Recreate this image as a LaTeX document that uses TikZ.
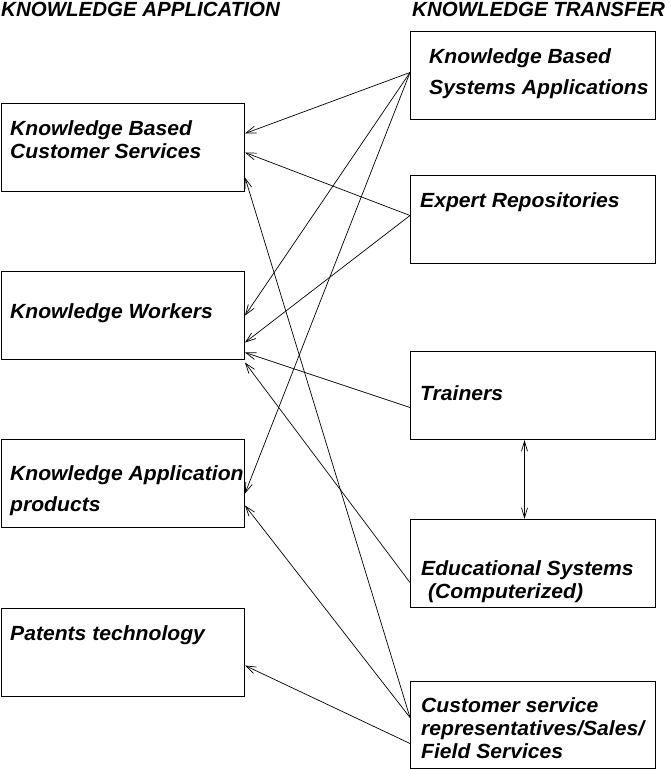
\documentclass[tikz,border=0pt]{standalone}
\usepackage{fontspec}
\setmainfont{Liberation Sans}
\newfontfamily\widefont[FakeStretch=1.03]{Liberation Sans}
\usetikzlibrary{arrows.meta,calc}
\begin{document}
\begin{tikzpicture}[x=1pt,y=-1pt,
  lbox/.style={draw,line width=1pt,minimum width=243pt,minimum height=88pt,anchor=north west,inner sep=0pt},
  rbox/.style={draw,line width=1pt,minimum width=245pt,minimum height=88pt,anchor=north west,inner sep=0pt},
  hdr/.style={anchor=base west,inner sep=0pt,font=\fontsize{20.5}{24}\selectfont\bfseries\itshape},
  lab/.style={anchor=base west,inner sep=0pt,font=\widefont\fontsize{20.5}{24}\selectfont\bfseries\itshape},
  arr/.style={-{Straight Barb[length=10pt,width=7pt]},line width=0.7pt},
  darr/.style={{Straight Barb[length=10pt,width=6pt]}-{Straight Barb[length=10pt,width=6pt]},line width=0.7pt}]
\useasboundingbox (0,0) rectangle (670,769);
% headers
\node[hdr] (h1) at (1,16) {KNOWLEDGE APPLICATION};
\node[hdr] (h2) at (412,16) {KNOWLEDGE TRANSFER};
% left boxes
\node[lbox] (kbcs) at (1,103) {};
\node[lbox] (kw) at (1,271) {};
\node[lbox] (kap) at (1,439) {};
\node[lbox] (pat) at (1,608) {};
% right boxes
\node[rbox] (kbsa) at (410,31) {};
\node[rbox] (er) at (410,175) {};
\node[rbox] (tr) at (410,351) {};
\node[rbox] (ed) at (410,519) {};
\node[rbox,minimum height=87pt] (csr) at (410,681) {};
% left texts
\node[lab] (l1a) at (10,135) {Knowledge Based};
\node[lab] (l1b) at (10,158) {Customer Services};
\node[lab] (l2) at (10,318) {Knowledge Workers};
\node[lab] (l3a) at (10,480) {Knowledge Application};
\node[lab] (l3b) at (10,511) {products};
\node[lab] (l4) at (10,640) {Patents technology};
% right texts
\node[lab] (r1a) at (429,63) {Knowledge Based};
\node[lab] (r1b) at (429,94) {Systems Applications};
\node[lab] (r2) at (420,207) {Expert Repositories};
\node[lab] (r3) at (420,400) {Trainers};
\node[lab] (r4a) at (421,575) {Educational Systems};
\node[lab] (r4b) at (428,598) {(Computerized)};
\node[lab] (r5a) at (421,712) {Customer service};
\node[lab] (r5b) at (421,735) {representatives/Sales/};
\node[lab] (r5c) at (421,758) {Field Services};
% connectors
\draw[arr] ([yshift=3pt]kbsa.west) -- ([yshift=14pt]kbcs.east);
\draw[arr] ([yshift=3pt]kbsa.west) -- (kw.east);
\draw[arr] ([yshift=3pt]kbsa.west) -- ([yshift=-10pt]kap.east);
\draw[arr] ([yshift=4pt]er.west) -- ([yshift=-5pt]kbcs.east);
\draw[arr] ([yshift=4pt]er.west) -- ([yshift=-27pt]kw.east);
\draw[arr] ([yshift=-12pt]tr.west) -- ([yshift=-37pt]kw.east);
\draw[arr] ([yshift=-19pt]ed.west) -- ([yshift=-47pt]kw.east);
\draw[arr] ([yshift=7.5pt]csr.west) -- ([yshift=-30pt]kbcs.east);
\draw[arr] ([yshift=7.5pt]csr.west) -- ([yshift=-22pt]kap.east);
\draw[arr] ([yshift=-18.5pt]csr.west) -- ([yshift=-13pt]pat.east);
\draw[darr] ([xshift=-8.5pt]tr.south) -- ([xshift=-8.5pt]ed.north);
\end{tikzpicture}
\end{document}
